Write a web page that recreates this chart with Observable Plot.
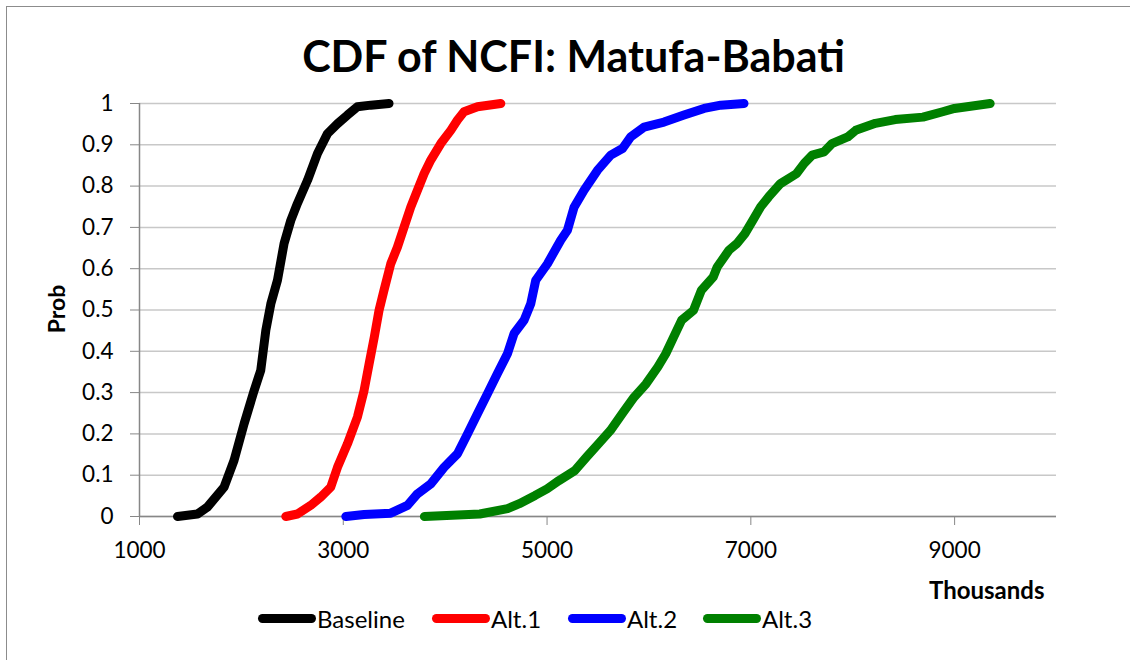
<!DOCTYPE html>
<html><head><meta charset="utf-8">
<script src="https://cdn.jsdelivr.net/npm/d3@7"></script>
<script src="https://cdn.jsdelivr.net/npm/@observablehq/plot@0.6"></script>
<style>
body{margin:0;background:#fff;font-family:Lato,"Noto Sans",sans-serif;}
#wrap{position:relative;width:1130px;height:660px;overflow:hidden;background:#fff}
#frame{position:absolute;left:6px;top:6px;width:1300px;height:800px;border:1.5px solid #8c8c8c;box-sizing:border-box}
#chart{position:absolute;left:0;top:0}
#title{position:absolute;left:0;width:1147px;top:32px;text-align:center;font-weight:bold;font-size:43px;line-height:48px;color:#000}
#ylab{position:absolute;left:56px;top:309px;transform:translate(-50%,-50%) rotate(-90deg);font-weight:bold;font-size:23px;white-space:nowrap}
#xlab{position:absolute;left:929px;top:576px;font-weight:bold;font-size:24px;line-height:28px}
#legend{position:absolute;left:0;top:604px;width:1130px;height:28px;font-size:24px}
.item{position:absolute;top:0;display:flex;align-items:center;height:28px;white-space:nowrap}
.sw{width:58px;height:9px;border-radius:4.5px;margin-right:1px}
</style>
</head><body>
<div id="wrap">
  <div id="frame"></div>
  <div id="chart"></div>
  <div id="title">CDF of NCFI: Matufa-Babati</div>
  <div id="ylab">Prob</div>
  <div id="xlab">Thousands</div>
  <div id="legend"></div>
</div>
<script>
// Series names and colours
const seriesNames = ["Baseline", "Alt.1", "Alt.2", "Alt.3"];
const seriesColors = ["#000000", "#ff0000", "#0000ff", "#008000"];

// NCFI values (thousands) and cumulative probabilities
const baselineX = [1373,1569,1667,1830,1928,2027,2125,2190,2240,2289,2354,2419,2485,2550,2649,2747,2845,2943,3041,3139,3270,3449];
const baselineP = [0,0.006,0.023,0.071,0.136,0.225,0.305,0.354,0.451,0.515,0.572,0.661,0.717,0.758,0.814,0.879,0.927,0.951,0.972,0.992,0.996,1];

const alt1X = [2436,2550,2681,2779,2877,2943,3041,3139,3204,3254,3304,3351,3400,3466,3531,3597,3662,3728,3793,3859,3957,4055,4121,4185,4317,4546];
const alt1P = [0,0.006,0.027,0.047,0.071,0.119,0.176,0.241,0.305,0.370,0.434,0.499,0.548,0.612,0.652,0.701,0.749,0.790,0.830,0.863,0.903,0.935,0.960,0.980,0.992,1];

const alt2X = [3025,3204,3466,3630,3728,3859,3989,4121,4219,4317,4415,4513,4611,4676,4774,4840,4889,5004,5134,5200,5265,5363,5494,5625,5740,5821,5952,6148,6344,6541,6705,6933];
const alt2P = [0,0.005,0.008,0.027,0.055,0.079,0.119,0.152,0.200,0.249,0.297,0.346,0.394,0.443,0.475,0.515,0.572,0.612,0.669,0.693,0.749,0.790,0.838,0.875,0.891,0.919,0.943,0.955,0.972,0.988,0.996,1];

const alt3X = [3796,4340,4612,4728,4883,5000,5117,5272,5388,5505,5621,5738,5854,5971,6087,6165,6243,6320,6437,6515,6631,6670,6786,6864,6942,7019,7097,7175,7291,7447,7524,7602,7718,7796,7951,8029,8223,8417,8689,8883,8999,9349];
const alt3P = [0,0.006,0.019,0.031,0.051,0.067,0.087,0.111,0.144,0.176,0.208,0.249,0.289,0.321,0.362,0.394,0.435,0.475,0.499,0.548,0.580,0.604,0.645,0.661,0.685,0.717,0.750,0.774,0.806,0.830,0.855,0.875,0.883,0.903,0.919,0.935,0.952,0.961,0.967,0.980,0.988,1];

// Axis ticks
const xTicks = [1000, 3000, 5000, 7000, 9000];
const yTicks = [0, 0.1, 0.2, 0.3, 0.4, 0.5, 0.6, 0.7, 0.8, 0.9, 1];
const yTickLabels = ["0","0.1","0.2","0.3","0.4","0.5","0.6","0.7","0.8","0.9","1"];

const seriesX = [baselineX, alt1X, alt2X, alt3X];
const seriesP = [baselineP, alt1P, alt2P, alt3P];
const rows = [];
seriesNames.forEach((name, i) => {
  seriesX[i].forEach((x, j) => rows.push({series: name, x, p: seriesP[i][j]}));
});

const chart = Plot.plot({
  width: 1130,
  height: 660,
  marginLeft: 139,
  marginRight: 74,
  marginTop: 103,
  marginBottom: 144,
  style: {fontFamily: "Lato, 'Noto Sans', sans-serif", background: "transparent", overflow: "visible"},
  x: {domain: [1000, 10000]},
  y: {domain: [0, 1]},
  color: {domain: seriesNames, range: seriesColors},
  marks: [
    Plot.gridY(yTicks, {stroke: "#c8c8c8", strokeOpacity: 1, strokeWidth: 1.5}),
    Plot.ruleX([1000], {stroke: "#878787", strokeWidth: 1.5}),
    Plot.ruleY([0], {stroke: "#878787", strokeWidth: 1.5}),
    Plot.axisY(yTicks, {tickSize: 9, tickPadding: 17, fontSize: 22.5, stroke: "#878787", fill: "#000", label: null,
      tickFormat: (d) => yTickLabels[yTicks.indexOf(d)]}),
    Plot.axisX(xTicks, {tickSize: 9, tickPadding: 17, fontSize: 22.5, stroke: "#878787", fill: "#000", label: null,
      tickFormat: (d) => String(d)}),
    Plot.line(rows, {x: "x", y: "p", z: "series", stroke: "series", strokeWidth: 9,
      strokeLinecap: "round", strokeLinejoin: "round"})
  ]
});
document.getElementById("chart").appendChild(chart);

const legendLefts = [258, 432, 568, 703];
const legend = document.getElementById("legend");
seriesNames.forEach((name, i) => {
  const it = document.createElement("div");
  it.className = "item";
  it.style.left = legendLefts[i] + "px";
  const sw = document.createElement("div");
  sw.className = "sw";
  sw.style.background = seriesColors[i];
  const tx = document.createElement("span");
  tx.textContent = name;
  it.appendChild(sw); it.appendChild(tx);
  legend.appendChild(it);
});
</script>
</body></html>
